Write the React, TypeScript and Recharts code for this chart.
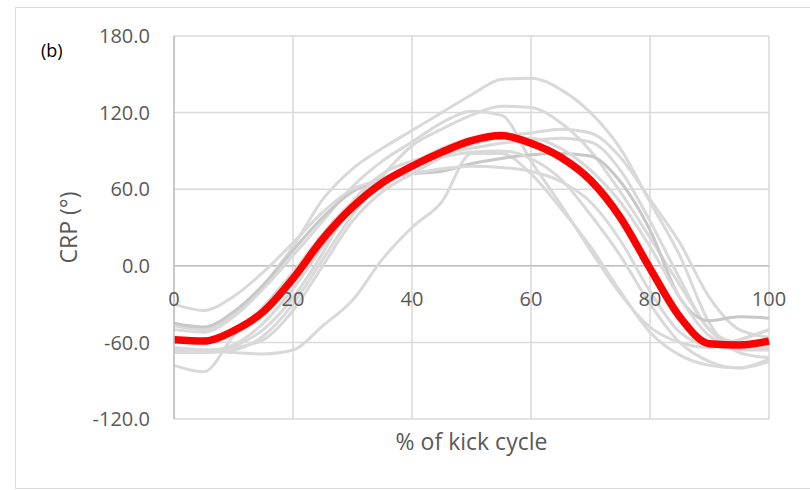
import React from "react";
import {
  CartesianGrid,
  Label,
  Line,
  LineChart,
  ReferenceLine,
  XAxis,
  YAxis,
} from "recharts";

// % of kick cycle, sampled every 5%
const kickCycle = [0, 5, 10, 15, 20, 25, 30, 35, 40, 45, 50, 55, 60, 65, 70, 75, 80, 85, 90, 95, 100];

// individual trials (grey)
const trialA = [-47, -50, -38, -15, 15, 52, 76, 92, 106, 120, 134, 146, 147, 138, 120, 92, 50, 8, -45, -68, -72];
const trialB = [-66, -68, -66, -55, -30, 5, 40, 70, 94, 107, 118, 125, 124, 112, 90, 58, 22, -15, -50, -66, -66];
const trialC = [-50, -52, -40, -18, 8, 35, 62, 82, 97, 112, 121, 118, 82, 48, 12, -22, -48, -60, -64, -58, -50];
const trialD = [-64, -66, -68, -69, -66, -47, -27, 5, 30, 50, 88, 88, 72, 45, 15, -20, -52, -70, -78, -80, -73];
const trialE = [-66, -67, -62, -45, -18, 15, 45, 65, 80, 92, 100, 102, 104, 107, 104, 85, 52, 18, -25, -50, -56];
const trialF = [-68, -68, -63, -50, -25, 10, 50, 72, 82, 88, 92, 96, 98, 100, 97, 75, 35, -10, -50, -60, -60];
const trialG = [-45, -48, -36, -15, 12, 38, 58, 68, 72, 74, 80, 84, 87, 88, 86, 66, 28, -25, -43, -40, -41];
const trialH = [-30, -35, -24, -5, 18, 42, 60, 67, 72, 76, 78, 77, 74, 66, 50, 20, -20, -52, -62, -58, -50];
const trialI = [-78, -83, -55, -32, -5, 25, 50, 68, 78, 85, 89, 90, 84, 68, 40, 8, -30, -60, -75, -80, -75];
const trialJ = [-66, -66, -64, -58, -35, 0, 35, 58, 72, 85, 95, 100, 100, 92, 75, 50, 15, -25, -55, -64, -64];

// mean (red)
const meanCrp = [-58, -59, -51, -36, -10, 21, 46, 65, 78, 89, 98, 102, 96, 85, 67, 38, -2, -40, -61, -62, -59];

const xTicks = [0, 20, 40, 60, 80, 100];
const yTicks = [-120, -60, 0, 60, 120, 180];

const trials: [string, number[], string][] = [
  ["a", trialA, "#d9d9d9"],
  ["b", trialB, "#d9d9d9"],
  ["c", trialC, "#d9d9d9"],
  ["d", trialD, "#d9d9d9"],
  ["e", trialE, "#d9d9d9"],
  ["f", trialF, "#d9d9d9"],
  ["g", trialG, "#c8c8c8"],
  ["h", trialH, "#d9d9d9"],
  ["i", trialI, "#d9d9d9"],
  ["j", trialJ, "#d9d9d9"],
];

const data = kickCycle.map((x, i) => {
  const row: Record<string, number> = { x, mean: meanCrp[i] };
  trials.forEach(([key, values]) => {
    row[key] = values[i];
  });
  return row;
});

const font = "'Open Sans', sans-serif";

// Excel draws the category labels just under the 0 line
const XTick = (props: any) => {
  const { x, y, payload } = props;
  return (
    <text
      x={x}
      y={y - 129}
      textAnchor="middle"
      dominantBaseline="central"
      fill="#595959"
      fontSize={20}
      fontFamily={font}
    >
      {payload.value}
    </text>
  );
};

const YTitle = (props: any) => {
  const { viewBox } = props;
  const cx = viewBox.x + 54;
  const cy = viewBox.y + viewBox.height / 2;
  return (
    <text
      x={cx}
      y={cy}
      transform={`rotate(-90 ${cx} ${cy})`}
      textAnchor="middle"
      dominantBaseline="central"
      fill="#595959"
      fontSize={23}
      fontFamily={font}
    >
      CRP (°)
    </text>
  );
};

export default function App() {
  return (
    <div style={{ position: "absolute", left: 0, top: 0, width: 810, height: 490, background: "#fff" }}>
      <div
        style={{
          position: "absolute",
          left: 15,
          top: 7,
          width: 820,
          height: 480,
          border: "1.5px solid #d9d9d9",
        }}
      />
      <div
        style={{
          position: "absolute",
          left: 41,
          top: 38,
          fontFamily: font,
          fontSize: 18,
          color: "#000",
        }}
      >
        (b)
      </div>
      <div style={{ position: "absolute", left: 0, top: 0 }}>
        <LineChart
          width={810}
          height={490}
          data={data}
          margin={{ top: 36, right: 41, bottom: 25, left: 14 }}
        >
          <CartesianGrid stroke="#d9d9d9" strokeWidth={1.5} />
          <XAxis
            dataKey="x"
            type="number"
            domain={[0, 100]}
            ticks={xTicks}
            axisLine={false}
            tickLine={false}
            height={46}
            tick={<XTick />}
          >
            <Label
              value="% of kick cycle"
              position="center"
              fill="#595959"
              fontSize={23}
              fontFamily={font}
            />
          </XAxis>
          <YAxis
            type="number"
            domain={[-120, 180]}
            ticks={yTicks}
            width={160}
            tickLine={false}
            tickMargin={18}
            axisLine={{ stroke: "#bfbfbf", strokeWidth: 1.5 }}
            tickFormatter={(v: number) => v.toFixed(1)}
            tick={{ fill: "#595959", fontSize: 20, fontFamily: font }}
          >
            <Label content={<YTitle />} />
          </YAxis>
          <ReferenceLine y={0} stroke="#bfbfbf" strokeWidth={1.5} />
          {trials.map(([key, , color]) => (
            <Line
              key={key}
              dataKey={key}
              type="monotone"
              stroke={color}
              strokeWidth={3}
              dot={false}
              activeDot={false}
              isAnimationActive={false}
            />
          ))}
          <Line
            dataKey="mean"
            type="monotone"
            stroke="#ff0000"
            strokeWidth={7.5}
            dot={false}
            activeDot={false}
            isAnimationActive={false}
          />
        </LineChart>
      </div>
    </div>
  );
}
